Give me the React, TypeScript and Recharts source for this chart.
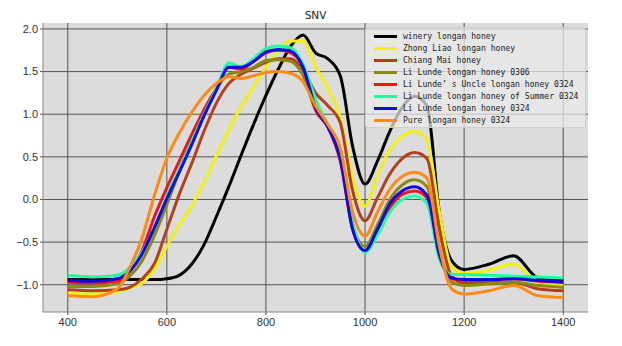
import React from 'react';
import { LineChart, Line, XAxis, YAxis, CartesianGrid, Legend } from 'recharts';

const wavelengths = [400, 450, 500, 525, 550, 575, 600, 625, 650, 675, 700, 725, 750, 775, 800, 825, 850, 875, 900, 925, 950, 975, 1000, 1025, 1050, 1075, 1100, 1125, 1150, 1175, 1200, 1250, 1300, 1350, 1400];

const wineryLongan = [-0.94, -0.94, -0.94, -0.94, -0.94, -0.94, -0.93, -0.89, -0.76, -0.53, -0.2, 0.15, 0.52, 0.88, 1.22, 1.53, 1.8, 1.93, 1.72, 1.65, 1.45, 0.62, 0.18, 0.45, 0.8, 1.08, 1.21, 1.1, -0.15, -0.72, -0.82, -0.76, -0.66, -0.92, -0.94];
const zhongLiao = [-1.1, -1.11, -1.08, -1.04, -0.98, -0.82, -0.55, -0.3, -0.08, 0.2, 0.51, 0.82, 1.09, 1.32, 1.55, 1.75, 1.86, 1.86, 1.56, 1.3, 0.96, 0.25, -0.08, 0.28, 0.58, 0.74, 0.8, 0.7, -0.15, -0.8, -0.87, -0.83, -0.76, -0.97, -1.01];
const chiangMai = [-1.06, -1.07, -1.06, -1.03, -0.93, -0.75, -0.35, 0.06, 0.42, 0.8, 1.13, 1.36, 1.47, 1.54, 1.61, 1.65, 1.65, 1.52, 1.25, 1.1, 0.9, 0.1, -0.25, 0.02, 0.3, 0.48, 0.55, 0.48, -0.35, -0.9, -0.98, -0.97, -0.97, -1.05, -1.07];
const liLunde0306 = [-1.02, -1.02, -0.99, -0.9, -0.72, -0.42, -0.06, 0.33, 0.72, 1.05, 1.3, 1.47, 1.5, 1.55, 1.63, 1.64, 1.62, 1.45, 1.05, 0.85, 0.5, -0.3, -0.55, -0.3, 0.0, 0.17, 0.23, 0.15, -0.6, -0.97, -1.01, -0.99, -0.97, -1.01, -1.03];
const liLundeUncle = [-0.97, -0.98, -0.96, -0.84, -0.6, -0.2, 0.14, 0.45, 0.76, 1.05, 1.3, 1.55, 1.53, 1.62, 1.72, 1.75, 1.72, 1.55, 1.05, 0.85, 0.45, -0.35, -0.6, -0.38, -0.1, 0.06, 0.1, 0.02, -0.65, -0.93, -0.95, -0.94, -0.93, -0.96, -0.97];
const liLundeSummer = [-0.89, -0.91, -0.89, -0.8, -0.62, -0.33, 0.04, 0.36, 0.68, 1.0, 1.3, 1.6, 1.56, 1.65, 1.77, 1.8, 1.78, 1.58, 1.18, 0.86, 0.51, -0.28, -0.62, -0.42, -0.15, 0.0, 0.04, -0.05, -0.7, -0.88, -0.88, -0.89, -0.9, -0.91, -0.92];
const liLunde0324 = [-0.95, -0.96, -0.93, -0.84, -0.64, -0.33, 0.01, 0.32, 0.64, 0.98, 1.28, 1.55, 1.55, 1.62, 1.73, 1.76, 1.74, 1.55, 1.08, 0.85, 0.48, -0.35, -0.6, -0.35, -0.05, 0.1, 0.15, 0.05, -0.65, -0.92, -0.94, -0.94, -0.93, -0.95, -0.97];
const pureLongan = [-1.13, -1.14, -1.05, -0.8, -0.45, 0.05, 0.48, 0.78, 1.02, 1.22, 1.36, 1.44, 1.42, 1.45, 1.49, 1.5, 1.48, 1.38, 1.1, 0.88, 0.6, -0.15, -0.43, -0.15, 0.12, 0.27, 0.32, 0.25, -0.55, -1.05, -1.11, -1.07, -1.01, -1.13, -1.15];

const seriesNames = [
  'winery longan honey',
  'Zhong Liao longan honey',
  'Chiang Mai honey',
  'Li Lunde longan honey 0306',
  'Li Lunde’ s Uncle longan honey 0324',
  'Li Lunde longan honey of Summer 0324',
  'Li Lunde longan honey 0324',
  'Pure longan honey 0324',
];
const seriesValues = [wineryLongan, zhongLiao, chiangMai, liLunde0306, liLundeUncle, liLundeSummer, liLunde0324, pureLongan];
const seriesColors = ['#000000', '#f2f20e', '#b3411a', '#8a8a0c', '#ff1010', '#1effa0', '#0a0ae6', '#ff8a14'];

const xTicks = [400, 600, 800, 1000, 1200, 1400];
const yTicks = [-1.0, -0.5, 0.0, 0.5, 1.0, 1.5, 2.0];

const data = wavelengths.map((x, i) => {
  const row: Record<string, number> = { x };
  seriesValues.forEach((vals, s) => {
    row['s' + s] = vals[i];
  });
  return row;
});

const fmtY = (v: number) => v.toFixed(1).replace('-', '\u2212');

const renderLegend = () => (
  <div
    style={{
      width: 221,
      height: 101,
      boxSizing: 'border-box',
      background: 'rgba(236,236,236,0.72)',
      border: '1px solid rgba(205,205,205,0.9)',
      borderRadius: 3,
      padding: '2px 0 0 8px',
    }}
  >
    {seriesNames.map((name, i) => (
      <div key={name} style={{ display: 'flex', alignItems: 'center', height: 12 }}>
        <span style={{ display: 'inline-block', width: 23, height: 3, background: seriesColors[i] }} />
        <span
          style={{
            marginLeft: 6,
            fontFamily: '"DejaVu Sans Mono", monospace',
            fontSize: 8.1,
            color: '#222',
            whiteSpace: 'pre',
            lineHeight: '12px',
          }}
        >
          {name}
        </span>
      </div>
    ))}
  </div>
);

export default function App() {
  return (
    <div style={{ position: 'relative', width: 614, height: 338 }}>
      <div
        style={{
          position: 'absolute',
          left: 35,
          top: 1,
          width: 545,
          textAlign: 'center',
          fontFamily: '"DejaVu Sans", sans-serif',
          fontSize: 10.5,
          lineHeight: '12px',
          color: '#222',
        }}
      >
        SNV
      </div>
      <LineChart width={614} height={338} data={data} margin={{ top: 15, right: 34, bottom: 0, left: 0 }}>
        <CartesianGrid
          stroke="#555"
          strokeWidth={1}
          fill="#dcdcdc"
          fillOpacity={1}
          horizontalValues={yTicks}
          verticalValues={xTicks}
        />
        <XAxis
          dataKey="x"
          type="number"
          domain={[350, 1450]}
          ticks={xTicks}
          allowDataOverflow
          height={34}
          tickSize={3}
          tickMargin={3}
          tickLine={{ stroke: '#555' }}
          axisLine={{ stroke: '#888' }}
          tick={{ fill: '#333', fontSize: 11, fontFamily: '"Liberation Sans", Arial, sans-serif' }}
        />
        <XAxis xAxisId="top" orientation="top" dataKey="x" type="number" domain={[350, 1450]} height={0} tick={false} tickLine={false} axisLine={{ stroke: '#888' }} />
        <YAxis
          type="number"
          domain={[-1.32, 2.07]}
          ticks={yTicks}
          allowDataOverflow
          width={35}
          tickSize={3}
          tickMargin={2}
          tickLine={{ stroke: '#555' }}
          axisLine={{ stroke: '#888' }}
          tickFormatter={fmtY}
          tick={{ fill: '#333', fontSize: 11, fontFamily: '"Liberation Sans", Arial, sans-serif' }}
        />
        <YAxis yAxisId="right" orientation="right" type="number" domain={[-1.32, 2.07]} width={0} tick={false} tickLine={false} axisLine={{ stroke: '#888' }} />
        {seriesNames.map((name, i) => (
          <Line
            key={name}
            name={name}
            dataKey={'s' + i}
            type="monotone"
            stroke={seriesColors[i]}
            strokeWidth={3}
            dot={false}
            activeDot={false}
            isAnimationActive={false}
          />
        ))}
        <Legend
          layout="vertical"
          align="center"
          verticalAlign="middle"
          wrapperStyle={{ left: 357, top: 19, width: 221, height: 101 }}
          content={renderLegend}
        />
      </LineChart>
    </div>
  );
}
